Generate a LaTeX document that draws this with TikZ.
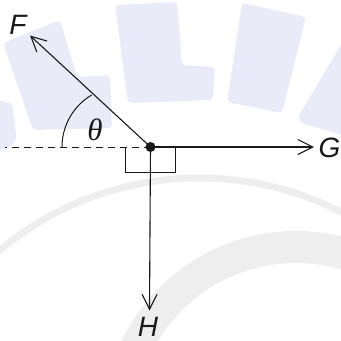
\documentclass[tikz,border=0pt]{standalone}
\usepackage{fontspec}
\setmainfont{Liberation Sans}
\newfontfamily\serifgreek{Liberation Serif}
\usetikzlibrary{arrows.meta}
\definecolor{wmblue}{RGB}{233,235,248}
\definecolor{wmgray}{RGB}{238,238,238}
\definecolor{ink}{RGB}{25,25,25}
\tikzset{
  vec/.style={draw=ink, line width=1.1pt, -{Straight Barb[length=15pt,width=15pt,line width=1.1pt]}},
  lbl/.style={inner sep=0pt, text=ink, font=\fontsize{28}{28}\selectfont\itshape},
  wmshape/.style={fill=wmblue, draw=none, rounded corners=4pt},
  wmring/.style={draw=wmgray},
}
\begin{document}
\begin{tikzpicture}[x=1pt,y=-1pt]
\useasboundingbox (0,0) rectangle (341,341);
\clip (0,0) rectangle (341,341);
% watermark
\draw[wmring, line width=7pt] (199.4,490) circle[radius=312];
\draw[wmring, line width=32pt] (296,424) circle[radius=177];
\fill[wmshape] (-5,100) -- (12,103) -- (17,140) -- (5,150) -- (-5,150) -- cycle;
\fill[wmshape] (3,43) -- (60,20) -- (77,77) -- (110,75) -- (112,128) -- (33,130) -- cycle;
\fill[wmshape] (115,5) -- (177,2) -- (182,65) -- (215,67) -- (213,100) -- (128,103) -- cycle;
\fill[wmshape] (242,3) -- (306,17) -- (282,113) -- (227,102) -- cycle;
\fill[wmshape] (345,38) -- (298,117) -- (301,123) -- (345,136) -- cycle;
% diagram
\coordinate (O) at (150.5,147);
\coordinate (Ftip) at (30,35.5);
\coordinate (Gtip) at (314,147);
\coordinate (Htip) at (149.5,310.5);
\coordinate (Dend) at (5,147);
\coordinate (BL) at (125,172);
\coordinate (BR) at (175,172);
\draw[ink, line width=0.9pt, dash pattern=on 7pt off 5pt] (O) -- (Dend);
\draw[ink, line width=1pt] (125,147) -- (BL) -- (BR) -- (175,147);
\draw[ink, line width=1pt] (62,147) .. controls (62,125.65) and (73.27,105.87) .. (91.65,95);
\draw[vec] (O) -- (Ftip);
\draw[vec] (O) -- (Gtip);
\draw[vec] (O) -- (Htip);
\fill[ink] (O) circle[radius=5];
\node[lbl] (F) at (18,25) {F};
\node[lbl] (G) at (329.5,147.5) {G};
\node[lbl] (H) at (148,327) {H};
\node[inner sep=0pt, text=ink, font=\fontsize{31}{31}\selectfont\serifgreek\itshape] (theta) at (95,129.5) {θ};
\end{tikzpicture}
\end{document}
